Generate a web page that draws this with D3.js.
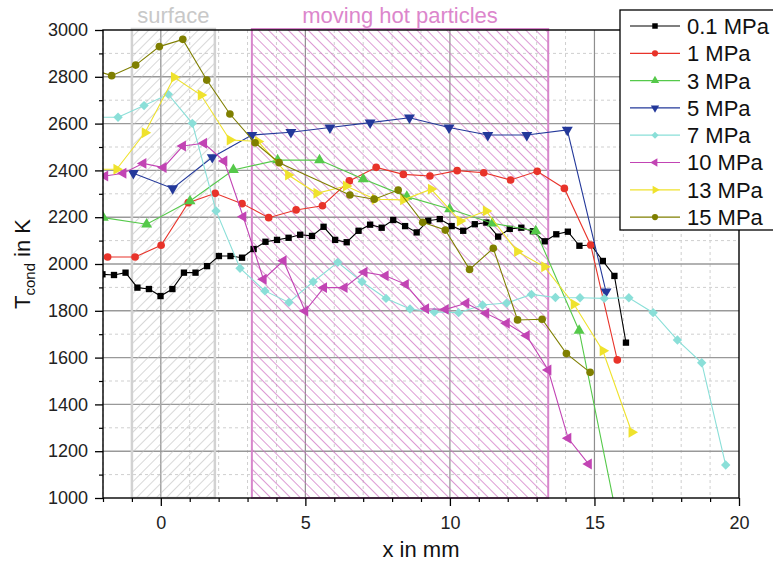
<!DOCTYPE html>
<html>
<head>
<meta charset="utf-8">
<script src="https://cdn.jsdelivr.net/npm/d3@7"></script>
<style>
  html, body { margin: 0; padding: 0; background: #fff; }
  svg { display: block; font-family: "Liberation Sans", Arial, sans-serif; }
</style>
</head>
<body>
<svg id="chart" width="773" height="566"></svg>
<script>
// Condensation temperature profiles along x for several pressures
const seriesNames = ["0.1 MPa", "1 MPa", "3 MPa", "5 MPa", "7 MPa", "10 MPa", "13 MPa", "15 MPa"];

const x01 = [-2.02, -1.62, -1.22, -0.81, -0.41, -0.01, 0.40, 0.80, 1.20, 1.60, 2.01, 2.41, 2.81, 3.21, 3.62, 4.02,
  4.42, 4.82, 5.23, 5.63, 6.03, 6.43, 6.84, 7.24, 7.64, 8.04, 8.45, 8.85, 9.25, 9.65, 10.06, 10.46,
  10.86, 11.26, 11.67, 12.07, 12.47, 12.87, 13.28, 13.68, 14.08, 14.48, 14.89, 15.29, 15.69, 16.09];
const t01 = [1956, 1953, 1963, 1899, 1893, 1863, 1893, 1963, 1963, 1991, 2034, 2034, 2027, 2064, 2095, 2103,
  2112, 2125, 2120, 2159, 2103, 2093, 2142, 2168, 2155, 2188, 2162, 2135, 2185, 2192, 2162, 2142,
  2170, 2177, 2117, 2150, 2155, 2140, 2097, 2127, 2138, 2078, 2081, 2013, 1949, 1664];

const x1 = [-1.84, -0.89, 0.01, 0.95, 1.88, 2.81, 3.73, 4.68, 5.59, 6.52, 7.45, 8.39, 9.31, 10.25, 11.17, 12.10, 13.02, 13.96, 14.87, 15.79];
const t1 = [2030, 2030, 2080, 2262, 2302, 2258, 2198, 2231, 2249, 2355, 2413, 2383, 2376, 2399, 2390, 2359, 2396, 2323, 2081, 1590];

const x3 = [-1.99, -0.49, 1.01, 2.51, 4.04, 5.49, 7.00, 8.51, 9.99, 11.47, 12.97, 14.47, 15.96];
const t3 = [2198, 2170, 2269, 2402, 2444, 2444, 2363, 2288, 2235, 2174, 2141, 1715, 804];

const x5 = [-0.95, 0.41, 1.78, 3.15, 4.50, 5.85, 7.24, 8.60, 9.97, 11.31, 12.66, 14.06, 15.40];
const t5 = [2388, 2323, 2456, 2551, 2563, 2583, 2604, 2625, 2583, 2551, 2551, 2573, 1882];

const x7 = [-2.30, -1.48, -0.58, 0.26, 1.09, 1.91, 2.74, 3.60, 4.43, 5.27, 6.12, 6.96, 7.79, 8.62, 9.46, 10.30,
  11.13, 11.96, 12.82, 13.65, 14.50, 15.34, 16.19, 17.03, 17.87, 18.71, 19.54];
const t7 = [2627, 2627, 2677, 2725, 2601, 2227, 1982, 1885, 1836, 1924, 2007, 1924, 1853, 1808, 1795, 1792,
  1825, 1833, 1870, 1857, 1856, 1853, 1856, 1792, 1675, 1578, 1141];

const x10 = [-1.93, -1.30, -0.61, 0.09, 0.76, 1.49, 2.19, 2.85, 3.55, 4.24, 4.99, 5.64, 6.35, 7.04, 7.77, 8.47,
  9.17, 9.85, 10.56, 11.25, 11.96, 12.65, 13.40, 14.09, 14.80];
const t10 = [2376, 2388, 2430, 2412, 2504, 2516, 2440, 2202, 1935, 2014, 1799, 1899, 1899, 1965, 1950, 1913,
  1809, 1806, 1832, 1789, 1747, 1694, 1547, 1255, 1145];

const x13 = [-2.50, -1.53, -0.55, 0.46, 1.39, 2.39, 3.36, 4.41, 5.39, 6.41, 7.41, 8.39, 9.35, 10.35, 11.25, 12.33, 13.27, 14.29, 15.29, 16.29];
const t13 = [2405, 2405, 2561, 2798, 2722, 2530, 2524, 2380, 2302, 2333, 2277, 2274, 2320, 2184, 2227, 2053, 1988, 1828, 1629, 1281];

const x15 = [-2.53, -1.70, -0.87, -0.05, 0.76, 1.59, 2.39, 3.26, 4.09, 6.54, 7.38, 8.21, 9.06, 9.84, 10.68, 11.50, 12.34, 13.19, 14.03, 14.85];
const t15 = [2838, 2805, 2850, 2929, 2960, 2786, 2641, 2518, 2433, 2295, 2277, 2316, 2178, 2145, 1977, 2067, 1761, 1764, 1617, 1537];

const xTicks = [0, 5, 10, 15, 20];
const yTicks = [1000, 1200, 1400, 1600, 1800, 2000, 2200, 2400, 2600, 2800, 3000];

// Highlighted regions (mm)
const surfaceRange = [-1.0, 1.87];
const particleRange = [3.15, 13.4];

const colors = ["#000000", "#e8332a", "#55c94a", "#23389a", "#8adfd8", "#c244b4", "#efe22c", "#7f7f00"];
const symbols = ["square", "circle", "up", "down", "diamond", "left", "right", "circle"];

const xs = [x01, x1, x3, x5, x7, x10, x13, x15];
const ts = [t01, t1, t3, t5, t7, t10, t13, t15];
const series = seriesNames.map((name, i) => ({
  name, color: colors[i], symbol: symbols[i],
  points: xs[i].map((xv, j) => ({ x: xv, t: ts[i][j] }))
}));

const svg = d3.select("#chart");
const L = 103, R = 739, T = 30, B = 498;
const x = d3.scaleLinear().domain([-2, 20]).range([L, R]);
const y = d3.scaleLinear().domain([1000, 3000]).range([B, T]);

const defs = svg.append("defs");
defs.append("clipPath").attr("id", "plotClip")
  .append("rect").attr("x", L).attr("y", T).attr("width", R - L).attr("height", B - T);

function hatch(id, angle, gap, color, width) {
  const p = defs.append("pattern").attr("id", id)
    .attr("patternUnits", "userSpaceOnUse")
    .attr("width", gap).attr("height", gap)
    .attr("patternTransform", `rotate(${angle})`);
  p.append("line").attr("x1", 0).attr("y1", 0).attr("x2", 0).attr("y2", gap)
    .attr("stroke", color).attr("stroke-width", width);
}
hatch("hatchSurface", 45, 7, "#bdbdbd", 1.2);
hatch("hatchParticles", -45, 7, "#cf6fc1", 1.4);

// Grid
const grid = svg.append("g");
const xMinor = d3.range(-2, 21, 1).filter(v => v % 5 !== 0);
const yMinor = d3.range(1100, 3000, 200);
grid.selectAll(".gxm").data(xMinor).join("line")
  .attr("x1", d => x(d)).attr("x2", d => x(d)).attr("y1", T).attr("y2", B)
  .attr("stroke", "#cfcfcf").attr("stroke-width", 1).attr("stroke-dasharray", "3,3");
grid.selectAll(".gym").data(yMinor).join("line")
  .attr("x1", L).attr("x2", R).attr("y1", d => y(d)).attr("y2", d => y(d))
  .attr("stroke", "#cfcfcf").attr("stroke-width", 1).attr("stroke-dasharray", "3,3");
grid.selectAll(".gx").data(xTicks.filter(v => v > -2 && v < 20)).join("line")
  .attr("x1", d => x(d)).attr("x2", d => x(d)).attr("y1", T).attr("y2", B)
  .attr("stroke", "#8e8e8e").attr("stroke-width", 1.2);
grid.selectAll(".gy").data(yTicks.filter(v => v > 1000 && v < 3000)).join("line")
  .attr("x1", L).attr("x2", R).attr("y1", d => y(d)).attr("y2", d => y(d))
  .attr("stroke", "#999").attr("stroke-width", 1.4);

// Regions
svg.append("rect")
  .attr("x", x(surfaceRange[0])).attr("y", T - 1)
  .attr("width", x(surfaceRange[1]) - x(surfaceRange[0])).attr("height", B - T + 1)
  .attr("fill", "url(#hatchSurface)").attr("stroke", "#d2d2d2").attr("stroke-width", 2.5);
svg.append("rect")
  .attr("x", x(particleRange[0])).attr("y", T - 1)
  .attr("width", x(particleRange[1]) - x(particleRange[0])).attr("height", B - T + 1)
  .attr("fill", "url(#hatchParticles)").attr("stroke", "#d786cb").attr("stroke-width", 2);

svg.append("text").attr("x", (x(surfaceRange[0]) + x(surfaceRange[1])) / 2).attr("y", 23)
  .attr("text-anchor", "middle").attr("font-size", 22).attr("fill", "#c8c8c8").text("surface");
svg.append("text").attr("x", (x(particleRange[0]) + x(particleRange[1])) / 2).attr("y", 23)
  .attr("text-anchor", "middle").attr("font-size", 22).attr("fill", "#dc86cc").text("moving hot particles");

// Marker shapes
function markerPath(kind, size) {
  const tri = d3.symbol().type(d3.symbolTriangle).size(size)();
  switch (kind) {
    case "square": return { d: d3.symbol().type(d3.symbolSquare).size(size)(), rot: 0 };
    case "circle": return { d: d3.symbol().type(d3.symbolCircle).size(size)(), rot: 0 };
    case "diamond": return { d: d3.symbol().type(d3.symbolSquare).size(size * 0.85)(), rot: 45 };
    case "up": return { d: tri, rot: 0 };
    case "down": return { d: tri, rot: 180 };
    case "left": return { d: tri, rot: -90 };
    case "right": return { d: tri, rot: 90 };
  }
}

// Data
const plot = svg.append("g").attr("clip-path", "url(#plotClip)");
const line = d3.line().x(d => x(d.x)).y(d => y(d.t));
series.forEach(s => {
  const g = plot.append("g");
  g.append("path").datum(s.points).attr("d", line)
    .attr("fill", "none").attr("stroke", s.color).attr("stroke-width", 1.1);
  const m = markerPath(s.symbol, s.symbol === "circle" ? 46 : (s.symbol === "square" ? 40 : 52));
  g.selectAll("path.mk").data(s.points).join("path").attr("class", "mk")
    .attr("d", m.d)
    .attr("transform", d => `translate(${x(d.x)},${y(d.t)}) rotate(${m.rot})`)
    .attr("fill", s.color);
});

// Axes
const axisFont = g => g.selectAll("text").attr("font-size", 18).attr("fill", "#222")
  .attr("font-family", "'Liberation Sans', Arial, sans-serif");
const xAxis = svg.append("g").attr("transform", `translate(0,${B})`)
  .call(d3.axisBottom(x).tickValues(xTicks).tickSize(8).tickPadding(10).tickFormat(d3.format("d")));
xAxis.call(axisFont);
xAxis.select(".domain").remove();
xAxis.selectAll("line").attr("stroke", "#000").attr("stroke-width", 1.3);
const xAxisMinor = svg.append("g").attr("transform", `translate(0,${B})`)
  .call(d3.axisBottom(x).tickValues(xMinor).tickSize(4).tickFormat(""));
xAxisMinor.select(".domain").remove();
xAxisMinor.selectAll("line").attr("stroke", "#000").attr("stroke-width", 1.2);

const yAxis = svg.append("g").attr("transform", `translate(${L},0)`)
  .call(d3.axisLeft(y).tickValues(yTicks).tickSize(8).tickPadding(7).tickFormat(d3.format("d")));
yAxis.call(axisFont);
yAxis.select(".domain").remove();
yAxis.selectAll("line").attr("stroke", "#000").attr("stroke-width", 1.3);
const yAxisMinor = svg.append("g").attr("transform", `translate(${L},0)`)
  .call(d3.axisLeft(y).tickValues(yMinor).tickSize(4).tickFormat(""));
yAxisMinor.select(".domain").remove();
yAxisMinor.selectAll("line").attr("stroke", "#000").attr("stroke-width", 1.2);

// Frame
svg.append("rect").attr("x", L).attr("y", T).attr("width", R - L).attr("height", B - T)
  .attr("fill", "none").attr("stroke", "#000").attr("stroke-width", 1.4);

// Axis titles
svg.append("text").attr("x", x(9)).attr("y", 557).attr("text-anchor", "middle")
  .attr("font-size", 22).attr("fill", "#111").text("x in mm");
const yt = svg.append("text").attr("transform", `translate(30,${(T + B) / 2}) rotate(-90)`)
  .attr("text-anchor", "middle").attr("font-size", 22).attr("fill", "#111");
yt.append("tspan").text("T");
yt.append("tspan").attr("font-size", 15).attr("dy", 5).text("cond");
yt.append("tspan").attr("dy", -5).text(" in K");

// Legend
const lg = svg.append("g");
lg.append("rect").attr("x", 620).attr("y", 10).attr("width", 170).attr("height", 220)
  .attr("fill", "#fff").attr("stroke", "#000").attr("stroke-width", 1.3);
series.forEach((s, i) => {
  const cy = 26 + i * 27.3;
  lg.append("line").attr("x1", 630).attr("x2", 680).attr("y1", cy).attr("y2", cy)
    .attr("stroke", s.color).attr("stroke-width", 1.2);
  const m = markerPath(s.symbol, 30);
  lg.append("path").attr("d", m.d).attr("transform", `translate(655,${cy}) rotate(${m.rot})`)
    .attr("fill", s.color);
  lg.append("text").attr("x", 687).attr("y", cy).attr("dy", "0.36em")
    .attr("font-size", 22).attr("fill", "#111").text(s.name);
});
</script>
</body>
</html>
